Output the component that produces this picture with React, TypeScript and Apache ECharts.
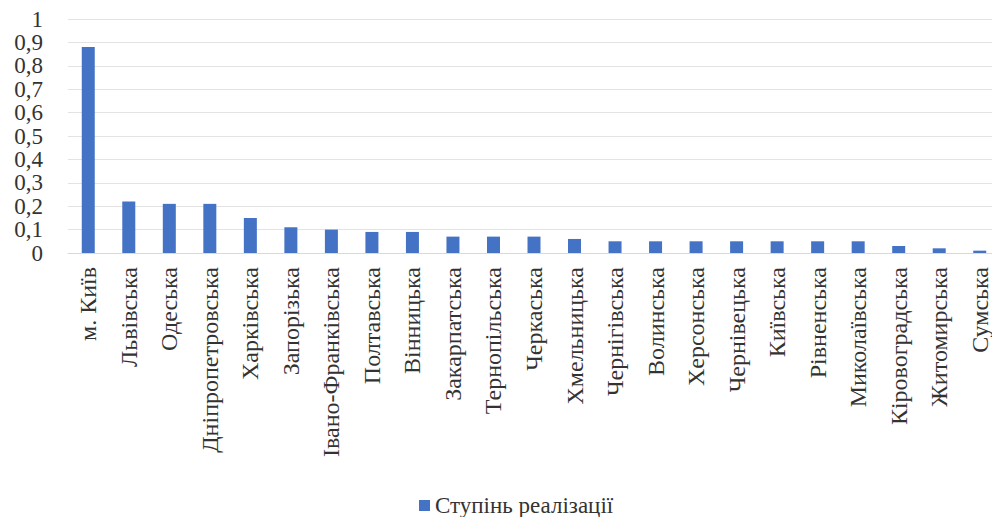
import React, { useEffect, useRef } from "react";
import * as echarts from "echarts";

const categories = [
  "м. Київ", "Львівська", "Одеська", "Дніпропетровська", "Харківська", "Запорізька",
  "Івано-Франківська", "Полтавська", "Вінницька", "Закарпатська", "Тернопільська",
  "Черкаська", "Хмельницька", "Чернігівська", "Волинська", "Херсонська", "Чернівецька",
  "Київська", "Рівненська", "Миколаївська", "Кіровоградська", "Житомирська", "Сумська",
];
const values = [
  0.88, 0.22, 0.21, 0.21, 0.15, 0.11, 0.10, 0.09, 0.09, 0.07, 0.07, 0.07, 0.06,
  0.05, 0.05, 0.05, 0.05, 0.05, 0.05, 0.05, 0.03, 0.02, 0.01,
];
const yTickLabels = ["0", "0,1", "0,2", "0,3", "0,4", "0,5", "0,6", "0,7", "0,8", "0,9", "1"];
const seriesName = "Ступінь реалізації";

const FONT = "Liberation Serif, Times New Roman, serif";

export default function App() {
  const ref = useRef<HTMLDivElement>(null);
  useEffect(() => {
    if (!ref.current) return;
    const chart = echarts.init(ref.current, undefined, { renderer: "svg" });
    chart.setOption({
      animation: false,
      backgroundColor: "#ffffff",
      textStyle: { fontFamily: FONT },
      grid: { left: 68, right: -8, top: 19, bottom: 272, containLabel: false },
      legend: {
        data: [seriesName],
        bottom: 3,
        left: 414,
        icon: "rect",
        itemWidth: 11,
        itemHeight: 11,
        itemGap: 6,
        textStyle: { fontFamily: FONT, fontSize: 23, color: "#333" },
      },
      xAxis: {
        type: "category",
        data: categories,
        axisTick: { show: false },
        axisLine: { show: true, lineStyle: { color: "#d9d9d9" } },
        axisLabel: {
          rotate: 90,
          interval: 0,
          margin: 14,
          fontFamily: FONT,
          fontSize: 24,
          color: "#333",
        },
      },
      yAxis: {
        type: "value",
        min: 0,
        max: 1,
        interval: 0.1,
        axisLine: { show: false },
        axisTick: { show: false },
        splitLine: { lineStyle: { color: "#e3e3e3" } },
        axisLabel: {
          margin: 25,
          fontFamily: FONT,
          fontSize: 23,
          lineHeight: 20,
          color: "#333",
          showMinLabel: true,
          showMaxLabel: true,
          hideOverlap: false,
          formatter: (v: number) => yTickLabels[Math.round(v * 10)] ?? "",
        },
      },
      series: [
        {
          name: seriesName,
          type: "bar",
          data: values,
          barWidth: 13,
          itemStyle: { color: "#4472C4" },
        },
      ],
    });
    return () => chart.dispose();
  }, []);
  return <div ref={ref} style={{ width: 1000, height: 525, margin: -8 }} />;
}
